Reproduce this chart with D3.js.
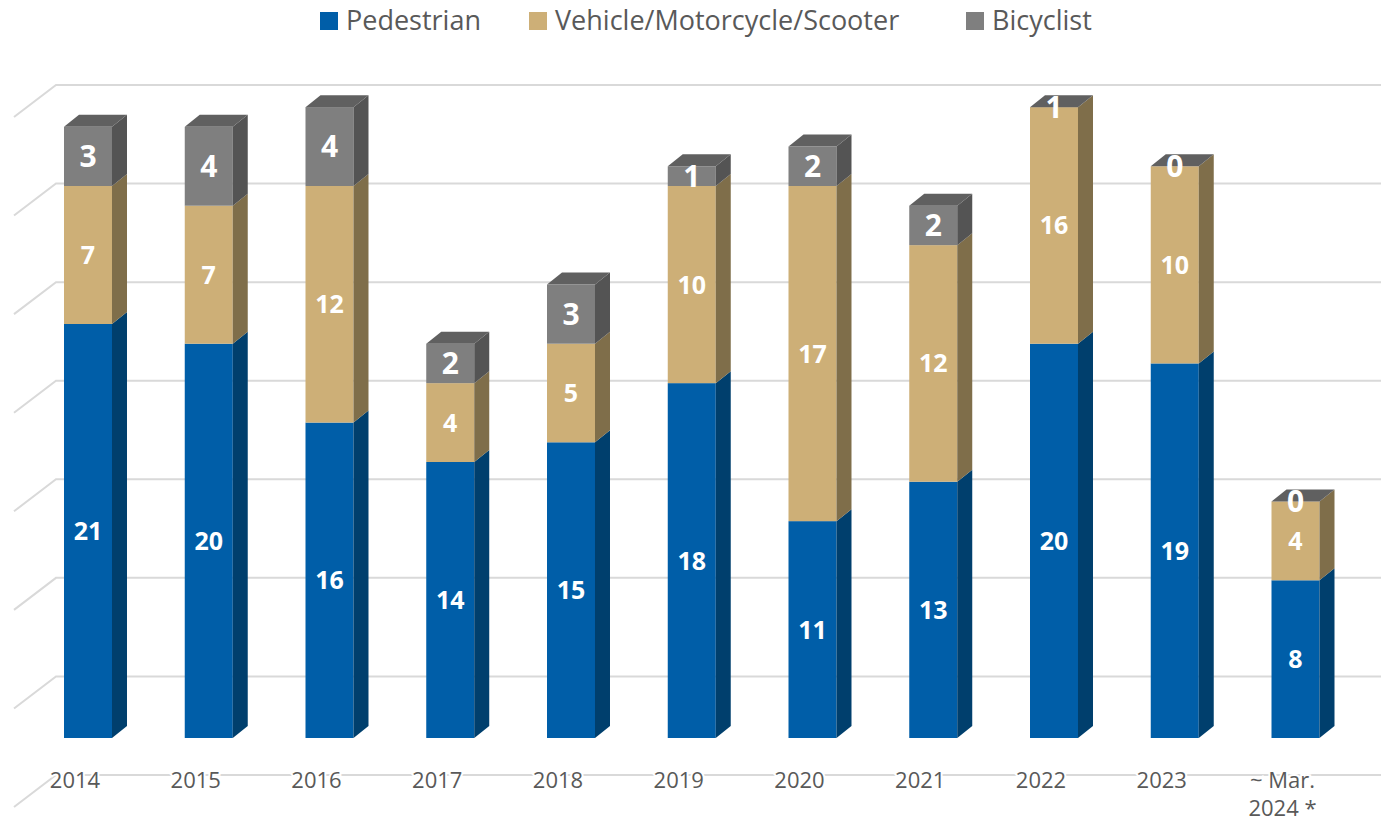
<!DOCTYPE html>
<html>
<head>
<meta charset="utf-8">
<script src="https://cdn.jsdelivr.net/npm/d3@7"></script>
<style>
  body { margin: 0; background: #fff; }
  text { font-family: "Open Sans", "Noto Sans", sans-serif; }
</style>
</head>
<body>
<div id="chart"></div>
<script>
// categories and series
const categories = ["2014", "2015", "2016", "2017", "2018", "2019", "2020", "2021", "2022", "2023", "~ Mar.|2024 *"];
const pedestrian = [21, 20, 16, 14, 15, 18, 11, 13, 20, 19, 8];
const vehicle = [7, 7, 12, 4, 5, 10, 17, 12, 16, 10, 4];
const bicyclist = [3, 4, 4, 2, 3, 1, 2, 2, 1, 0, 0];
const seriesNames = ["Pedestrian", "Vehicle/Motorcycle/Scooter", "Bicyclist"];
const gridTicks = [0, 5, 10, 15, 20, 25, 30, 35];
const clipMax = 32; // bars are cut at the top of the plot

const width = 1381, height = 823;
const colors = {
  front: ["#005EA8", "#CDAF77", "#7F7F7F"],
  side: ["#003F6D", "#7F6E4A", "#545454"],
  top: "#606060"
};

const svg = d3.select("#chart").append("svg")
  .attr("width", width)
  .attr("height", height);

// wall scale (gridlines) and offset of bar fronts
const y = d3.scaleLinear().domain([0, 35]).range([775, 85]);
const frontLift = 37;
const yb = v => y(v) - frontLift;

const x = d3.scaleBand()
  .domain(categories)
  .range([64, 1319.5])
  .paddingInner(0.6025)
  .paddingOuter(0);
const bw = x.bandwidth();
const dx = 15, dy = 12;

// gridlines on back wall
const grid = svg.append("g");
gridTicks.forEach(t => {
  grid.append("path")
    .attr("d", `M14,${y(t) + 32} L56,${y(t)} L${width},${y(t)}`)
    .attr("fill", "none")
    .attr("stroke", "#D9D9D9")
    .attr("stroke-width", 2);
});

// category labels (drawn over the floor line)
categories.forEach((c, i) => {
  const x0 = x(c);
  c.split("|").forEach((l, j) => {
    svg.append("text")
      .attr("x", x0 + 11)
      .attr("y", 788 + j * 28)
      .attr("text-anchor", "middle")
      .attr("font-size", 22)
      .attr("fill", "#595959")
      .attr("stroke", "#fff")
      .attr("stroke-width", 4)
      .attr("paint-order", "stroke")
      .text(l);
  });
});

// stacked bars
const series = [pedestrian, vehicle, bicyclist];
const bars = svg.append("g");

categories.forEach((c, i) => {
  const x0 = x(c);
  let acc = 0;
  const segs = series.map((s, k) => {
    const lo = Math.min(acc, clipMax);
    acc += s[i];
    const hi = Math.min(acc, clipMax);
    return { k, lo, hi, v: s[i] };
  });

  segs.forEach(sg => {
    const yt = yb(sg.hi), ybt = yb(sg.lo);
    if (sg.hi > sg.lo) {
      bars.append("rect")
        .attr("x", x0).attr("y", yt)
        .attr("width", bw).attr("height", ybt - yt)
        .attr("fill", colors.front[sg.k]);
      bars.append("path")
        .attr("d", `M${x0 + bw},${yt} L${x0 + bw + dx},${yt - dy} L${x0 + bw + dx},${ybt - dy} L${x0 + bw},${ybt} Z`)
        .attr("fill", colors.side[sg.k]);
    }
  });

  // top face
  const yTop = yb(segs[2].hi);
  bars.append("path")
    .attr("d", `M${x0},${yTop} L${x0 + dx},${yTop - dy} L${x0 + bw + dx},${yTop - dy} L${x0 + bw},${yTop} Z`)
    .attr("fill", colors.top);

  // data labels
  segs.forEach(sg => {
    const cy = (yb(sg.hi) + yb(sg.lo)) / 2;
    bars.append("text")
      .attr("x", x0 + bw / 2)
      .attr("y", cy)
      .attr("dy", "0.36em")
      .attr("text-anchor", "middle")
      .attr("fill", "#fff")
      .attr("font-weight", "bold")
      .attr("font-size", sg.k === 2 ? 30 : 25)
      .text(sg.v);
  });
});

// legend
const legendX = [320, 529, 966];
const legend = svg.append("g");
seriesNames.forEach((n, k) => {
  const g = legend.append("g").attr("transform", `translate(${legendX[k]},0)`);
  g.append("rect").attr("x", 0).attr("y", 12).attr("width", 18).attr("height", 18)
    .attr("fill", colors.front[k]);
  g.append("text").attr("x", 26).attr("y", 30)
    .attr("font-size", 27).attr("fill", "#595959").text(n);
});
</script>
</body>
</html>
